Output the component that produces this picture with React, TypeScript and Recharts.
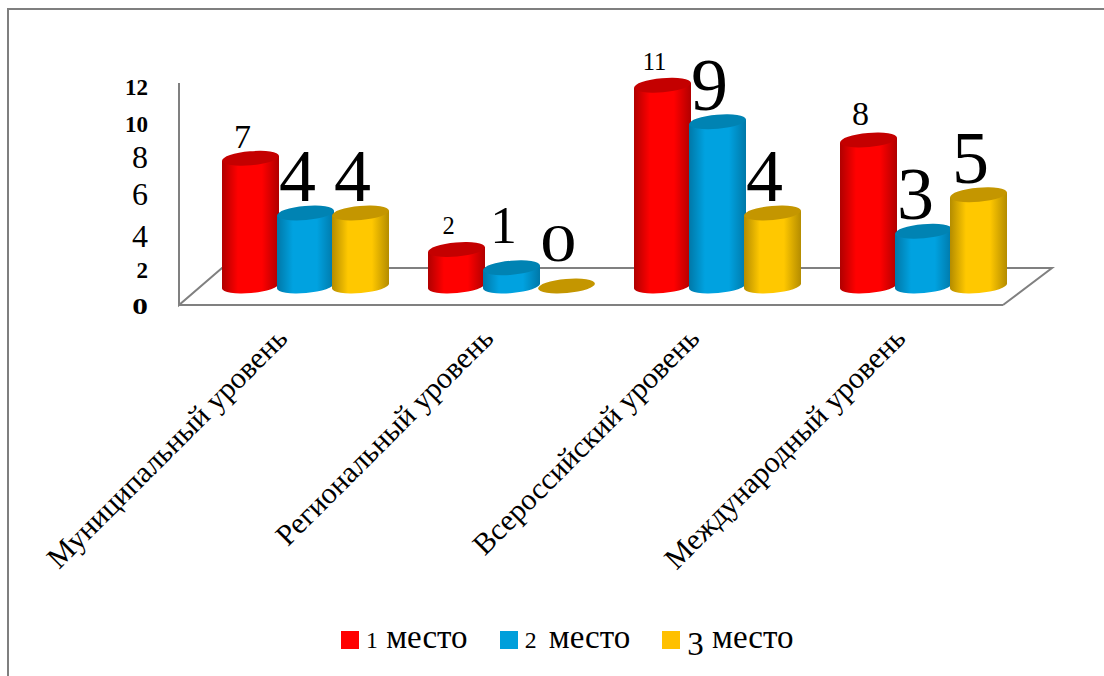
import { Bar, BarChart, LabelList, Legend, XAxis, YAxis } from "recharts";

// 3-D look of the original: bars stand half way back on the floor
const DEPTH_X = 23;
const DEPTH_Y = -19;
const RY = 7;
const TILT = -5;
const FONT = "'Liberation Serif', serif";

const categories = [
  "Муниципальный уровень",
  "Региональный уровень",
  "Всероссийский уровень",
  "Международный уровень",
];
const firstPlace = [7, 2, 11, 8];
const secondPlace = [4, 1, 9, 3];
const thirdPlace = [4, 0, 4, 5];
const yTicks = [0, 2, 4, 6, 8, 10, 12];

const data = categories.map((name, i) => ({
  name,
  first: firstPlace[i],
  second: secondPlace[i],
  third: thirdPlace[i],
}));

const COLORS = {
  first: { id: "cylRed", main: "#ff0000", edge: "#b00000", cap: "#c40000" },
  second: { id: "cylBlue", main: "#00a2e0", edge: "#0078a8", cap: "#0083b3" },
  third: { id: "cylGold", main: "#ffc800", edge: "#b48c00", cap: "#c49600" },
};

// the source font has old-style figures: imitate them with plain lining ones
function figure(text: any) {
  const s = String(text);
  const c = s[0];
  if ("012".includes(c)) return { scale: 0.72, drop: 0, small: true };
  if ("34579".includes(c)) return { scale: 1, drop: 0.2, small: false };
  return { scale: 1, drop: 0, small: false };
}

// a lone old-style zero is round, wider than the lining one
function zeroWidth(text: any, font: number) {
  return String(text) === "0" ? { textLength: font * 0.68, lengthAdjust: "spacingAndGlyphs" } : {};
}

function Cylinder(props: any) {
  const { x, y, width, height, palette } = props;
  const left = x - 1 + DEPTH_X;
  const right = x + width + 1 + DEPTH_X;
  const rx = (right - left) / 2;
  const top = y + DEPTH_Y;
  const bottom = y + height + DEPTH_Y;
  const lean = 2.5;
  const body =
    `M${left},${top + lean} L${left},${bottom + lean} ` +
    `A${rx},${RY} ${TILT} 0 0 ${right},${bottom - lean} ` +
    `L${right},${top - lean} Z`;
  return (
    <g>
      {height > 0 ? <path d={body} fill={`url(#${palette.id})`} /> : null}
      <ellipse
        cx={(left + right) / 2}
        cy={top}
        rx={rx}
        ry={RY}
        fill={palette.cap}
        transform={`rotate(${TILT} ${(left + right) / 2} ${top})`}
      />
    </g>
  );
}

function Gradient({ palette }: { palette: { id: string; main: string; edge: string } }) {
  return (
    <linearGradient id={palette.id} x1="0" y1="0" x2="1" y2="0">
      <stop offset="0%" stopColor={palette.edge} />
      <stop offset="28%" stopColor={palette.main} />
      <stop offset="70%" stopColor={palette.main} />
      <stop offset="100%" stopColor={palette.edge} />
    </linearGradient>
  );
}

function ValueLabel(props: any) {
  const { x, y, width, value, size } = props;
  const f = figure(value);
  const font = size * f.scale;
  const capTop = y + DEPTH_Y - RY;
  return (
    <text
      x={x + width / 2 + DEPTH_X - 8}
      y={capTop - size * 0.24 + size * f.drop - (f.drop ? 2 : 0)}
      textAnchor="middle"
      fontFamily={FONT}
      fontSize={font}
      fill="#000"
      {...zeroWidth(value, font)}
    >
      {value}
    </text>
  );
}

function YTick(props: any) {
  const { x, y, payload } = props;
  const size = 32;
  const f = figure(payload.value);
  const font = size * f.scale;
  return (
    <text
      x={x}
      y={y + 9 + size * f.drop}
      textAnchor="end"
      fontFamily={FONT}
      fontSize={font}
      fontWeight={f.small ? 700 : 400}
      fill="#000"
      {...zeroWidth(payload.value, font)}
    >
      {payload.value}
    </text>
  );
}

function LegendBox({ payload }: any) {
  return (
    <div style={{ display: "flex", gap: 32, paddingLeft: 341, fontFamily: FONT, fontSize: 33, lineHeight: "40px", color: "#000" }}>
      {payload.map((item: any) => {
        const label = String(item.value);
        const f = figure(label);
        return (
          <div key={label} style={{ display: "flex", alignItems: "center" }}>
            <span style={{ width: 18, height: 18, background: item.color, marginRight: 7 }} />
            <span style={{ position: "relative", top: -3 }}>
              <span
                style={{
                  fontSize: 33 * f.scale,
                  lineHeight: 0,
                  position: "relative",
                  top: 33 * f.drop,
                  letterSpacing: label[0] === "2" ? 4 : 0,
                }}
              >
                {label[0]}
              </span>
              {label.slice(1)}
            </span>
          </div>
        );
      })}
    </div>
  );
}

export default function App() {
  return (
    <div style={{ position: "absolute", left: 0, top: 0, width: 1104, height: 676, background: "#fff", overflow: "hidden" }}>
      <div style={{ position: "absolute", left: 7, top: 8, width: 1097, height: 668, borderLeft: "2px solid #7f7f7f", borderTop: "2px solid #7f7f7f", boxSizing: "border-box" }} />
      <BarChart
        width={1104}
        height={676}
        data={data}
        margin={{ top: 86, right: 101, bottom: 0, left: 0 }}
        barSize={55}
        barGap={0}
      >
        <defs>
          <Gradient palette={COLORS.first} />
          <Gradient palette={COLORS.second} />
          <Gradient palette={COLORS.third} />
        </defs>
        {/* floor and wall edge */}
        <polyline
          points="179,83 179,305 222,268 1052,268 1003,305"
          fill="none"
          stroke="#808080"
          strokeWidth={2}
        />
        <XAxis
          dataKey="name"
          height={371}
          interval={0}
          axisLine={{ stroke: "#808080", strokeWidth: 2 }}
          tickLine={false}
          angle={-45}
          textAnchor="end"
          tickMargin={14}
          tick={{ fontSize: 30, fontFamily: FONT, fill: "#000", dx: -8 }}
        />
        <YAxis
          width={179}
          domain={[0, 12]}
          ticks={yTicks}
          interval={0}
          axisLine={false}
          tickLine={false}
          tickMargin={25}
          tick={<YTick />}
        />
        <Legend
          layout="horizontal"
          align="center"
          verticalAlign="middle"
          wrapperStyle={{ left: 0, top: 620, width: 1104 }}
          content={<LegendBox />}
        />
        <Bar dataKey="first" name="1 место" fill="#ff0000" isAnimationActive={false} shape={<Cylinder palette={COLORS.first} />}>
          <LabelList dataKey="first" content={<ValueLabel size={34} />} />
        </Bar>
        <Bar dataKey="second" name="2 место" fill="#009fdb" isAnimationActive={false} shape={<Cylinder palette={COLORS.second} />}>
          <LabelList dataKey="second" content={<ValueLabel size={74} />} />
        </Bar>
        <Bar dataKey="third" name="3 место" fill="#ffc000" isAnimationActive={false} shape={<Cylinder palette={COLORS.third} />}>
          <LabelList dataKey="third" content={<ValueLabel size={74} />} />
        </Bar>
      </BarChart>
    </div>
  );
}
